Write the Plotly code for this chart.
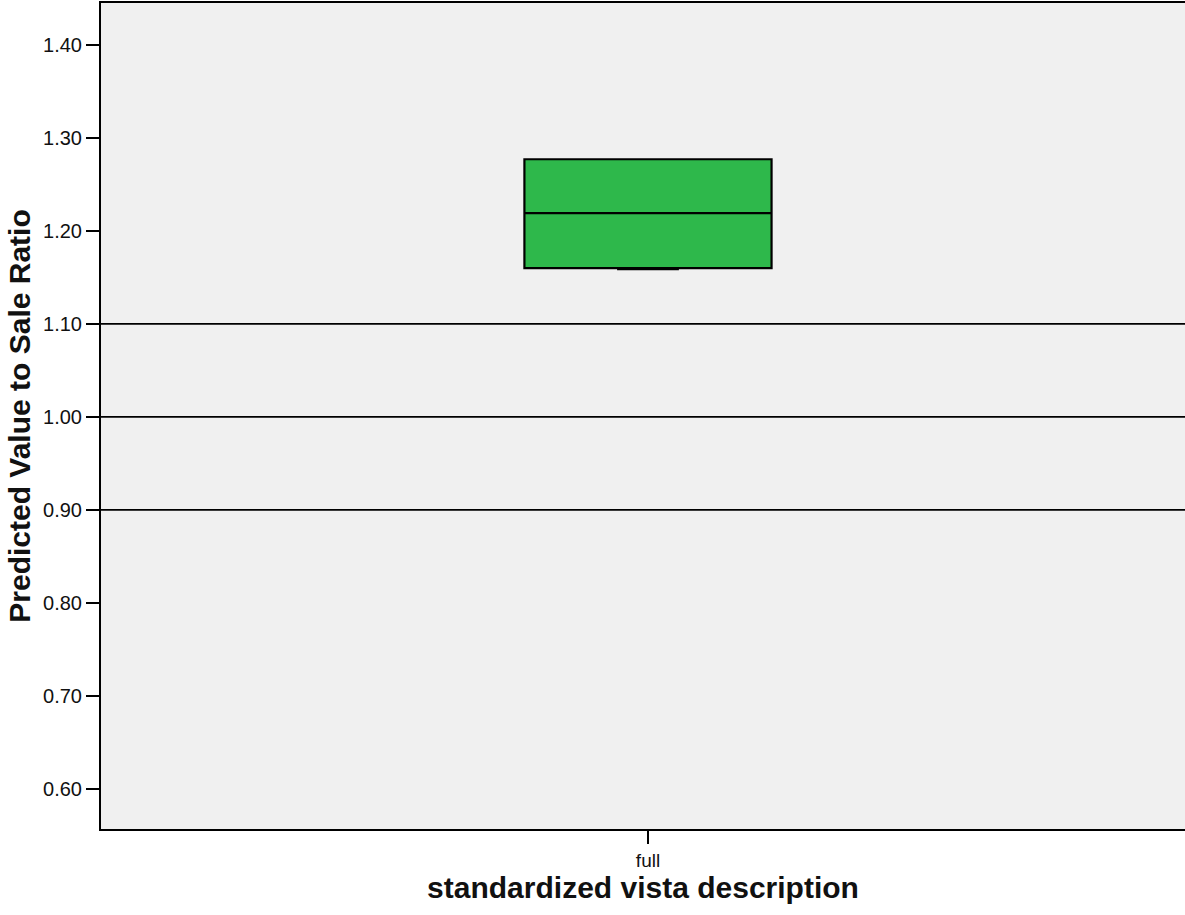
import plotly.graph_objects as go

categories = ["full"]
q1 = [1.160]
median = [1.219]
q3 = [1.277]
lowerfence = [1.159]
upperfence = [1.277]
ref_lines = [1.10, 1.00, 0.90]
tick_vals = [0.60, 0.70, 0.80, 0.90, 1.00, 1.10, 1.20, 1.30, 1.40]
tick_text = ["0.60", "0.70", "0.80", "0.90", "1.00", "1.10", "1.20", "1.30", "1.40"]

fig = go.Figure()
fig.add_trace(go.Box(
    x=categories, q1=q1, median=median, q3=q3,
    lowerfence=lowerfence, upperfence=upperfence,
    fillcolor="#2eb84b", line=dict(color="black", width=2.2),
    width=0.228, whiskerwidth=0.25, boxpoints=False, showlegend=False,
    hoverinfo="y",
))

for v in ref_lines:
    fig.add_shape(type="line", xref="paper", yref="y", x0=0, x1=1, y0=v, y1=v,
                  line=dict(color="black", width=1.8), layer="below")

fig.update_layout(
    width=1185, height=915,
    margin=dict(l=101, r=0, t=3, b=86),
    paper_bgcolor="white", plot_bgcolor="#f0f0f0",
    font=dict(family="Arial, Liberation Sans, sans-serif", color="#111111"),
    xaxis=dict(
        type="category", range=[-0.5046, 0.4954],
        showline=True, linecolor="black", linewidth=2, mirror=True,
        ticks="outside", ticklen=13, tickwidth=2, tickcolor="black",
        showgrid=False, zeroline=False,
        tickfont=dict(size=19, color="#111111"),
        title=dict(text="<b>standardized vista description</b>", font=dict(size=30, color="#111111"), standoff=6),
    ),
    yaxis=dict(
        range=[0.557, 1.445],
        tickvals=tick_vals, ticktext=tick_text,
        showline=True, linecolor="black", linewidth=2,
        ticks="outside", ticklen=13, tickwidth=2, tickcolor="black",
        showgrid=False, zeroline=False,
        tickfont=dict(size=20, color="#111111"),
        title=dict(text="<b>Predicted Value to Sale Ratio</b>", font=dict(size=30, color="#111111"), standoff=4),
    ),
)

fig.write_html("out.html", config={"displayModeBar": False},
               post_script="document.body.style.margin='0';")
